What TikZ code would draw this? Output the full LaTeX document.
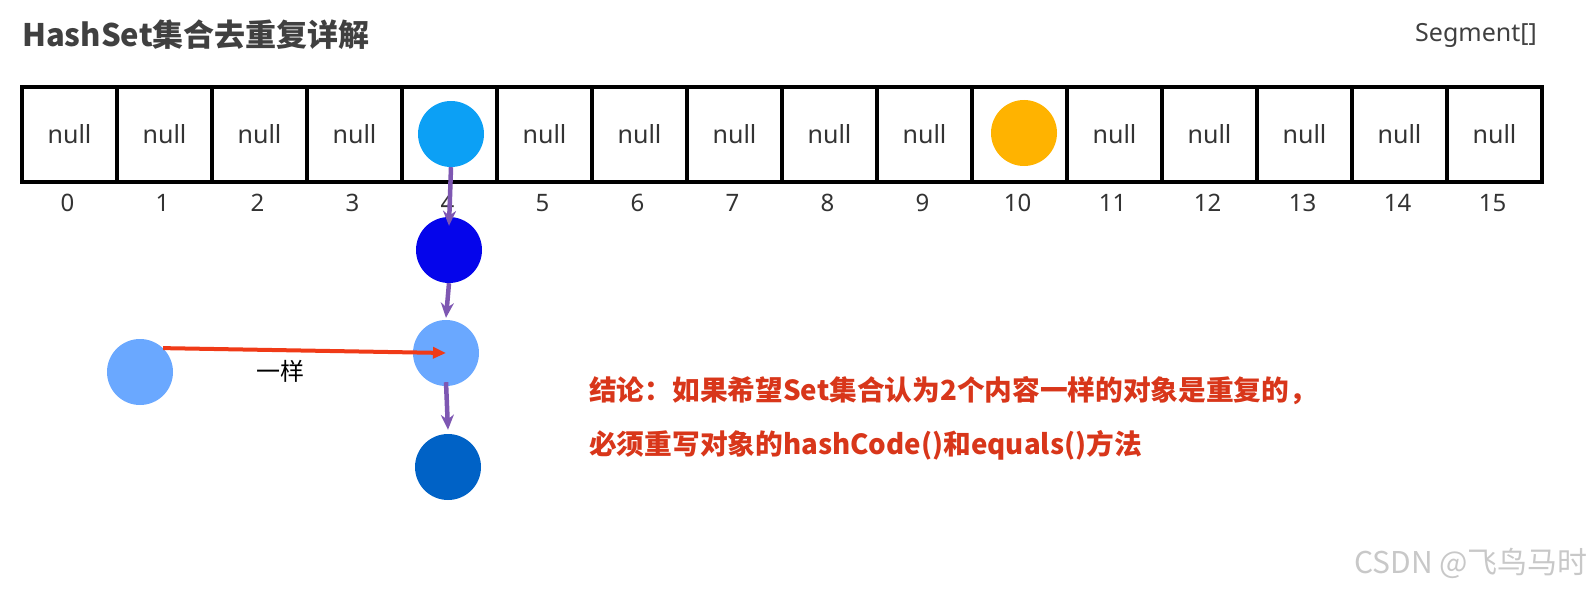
\documentclass[tikz,border=0pt]{standalone}
\usepackage{fontspec}
\setmainfont{Noto Sans CJK SC}
\newfontfamily\latinfont{Noto Sans}
\usetikzlibrary{arrows.meta}
\definecolor{titlegray}{HTML}{404040}
\definecolor{cfour}{HTML}{0CA0F5}
\definecolor{corange}{HTML}{FFB300}
\definecolor{cdark}{HTML}{0505EB}
\definecolor{clight}{HTML}{6AA8FF}
\definecolor{cbottom}{HTML}{0062C6}
\definecolor{purplearrow}{HTML}{7E57B2}
\definecolor{redarrow}{HTML}{F03A17}
\definecolor{concl}{HTML}{D8361A}
\definecolor{wmark}{HTML}{C8C8C8}
\tikzset{
  cell/.style={draw=black, line width=3.5pt, minimum width=95pt, minimum height=95pt, inner sep=0pt,
    font=\latinfont\fontsize{25}{29}\selectfont, text=black!80},
  idx/.style={font=\latinfont\fontsize{24}{28}\selectfont, text=black!80},
  ball/.style={circle, minimum size=66pt, inner sep=0pt, draw=none},
  parrow/.style={draw=purplearrow, line width=4.5pt, -{Stealth[length=15pt,width=13pt]}},
  rarrow/.style={draw=redarrow, line width=4pt, -{Triangle[length=13pt,width=11pt]}},
  concltext/.style={anchor=west, text=concl, font=\bfseries\fontsize{27.7}{32}\selectfont, inner sep=0pt}
}
\begin{document}
\begin{tikzpicture}[x=1pt,y=-1pt]
\useasboundingbox (0,0) rectangle (1592,591);
% title
\node[anchor=west, inner sep=0pt, text=titlegray, font=\bfseries\fontsize{31}{36}\selectfont] (title) at (22,35) {HashSet集合去重复详解};
\node[anchor=east, inner sep=0pt, text=titlegray, font=\latinfont\fontsize{25}{29}\selectfont] (seg) at (1537,35) {Segment[]};
% cells
\foreach \i in {0,...,15} {
  \pgfmathsetmacro{\cx}{22+95*\i+47.5}
  \ifnum\i=4
    \node[cell] (c\i) at (\cx,134.5) {};
  \else\ifnum\i=10
    \node[cell] (c\i) at (\cx,134.5) {};
  \else
    \node[cell] (c\i) at (\cx,134.5) {null};
  \fi\fi
  \node[idx] (i\i) at (\cx-2,203) {\i};
}
% balls
\node[ball, fill=cfour] (b0) at (451,134) {};
\node[ball, fill=corange] (o10) at (1024,133) {};
\node[ball, fill=cdark] (b1) at (449,250) {};
\node[ball, fill=clight] (b2) at (446,353) {};
\node[ball, fill=cbottom] (b3) at (448,467) {};
\node[ball, fill=clight] (lft) at (140,372) {};
% arrows
\draw[parrow] (b0.south) -- ([yshift=-9pt]b1.north);
\draw[parrow] (b1.south) -- ([yshift=2pt]b2.north);
\draw[parrow] ([yshift=4pt]b2.south) -- ([yshift=4pt]b3.north);
\draw[rarrow] (lft.46) -- (b2.center);
\node[font=\fontsize{24}{28}\selectfont, text=black] (same) at (280,371) {一样};
% conclusion
\node[concltext] (l1) at (589,391) {结论：如果希望Set集合认为2个内容一样的对象是重复的，};
\node[concltext] (l2) at (589,445) {必须重写对象的hashCode()和equals()方法};
% watermark
\node[anchor=west, inner sep=0pt, text=wmark, font=\fontsize{30}{34}\selectfont] (wm) at (1354,563) {CSDN @飞鸟马时};
\end{tikzpicture}
\end{document}
